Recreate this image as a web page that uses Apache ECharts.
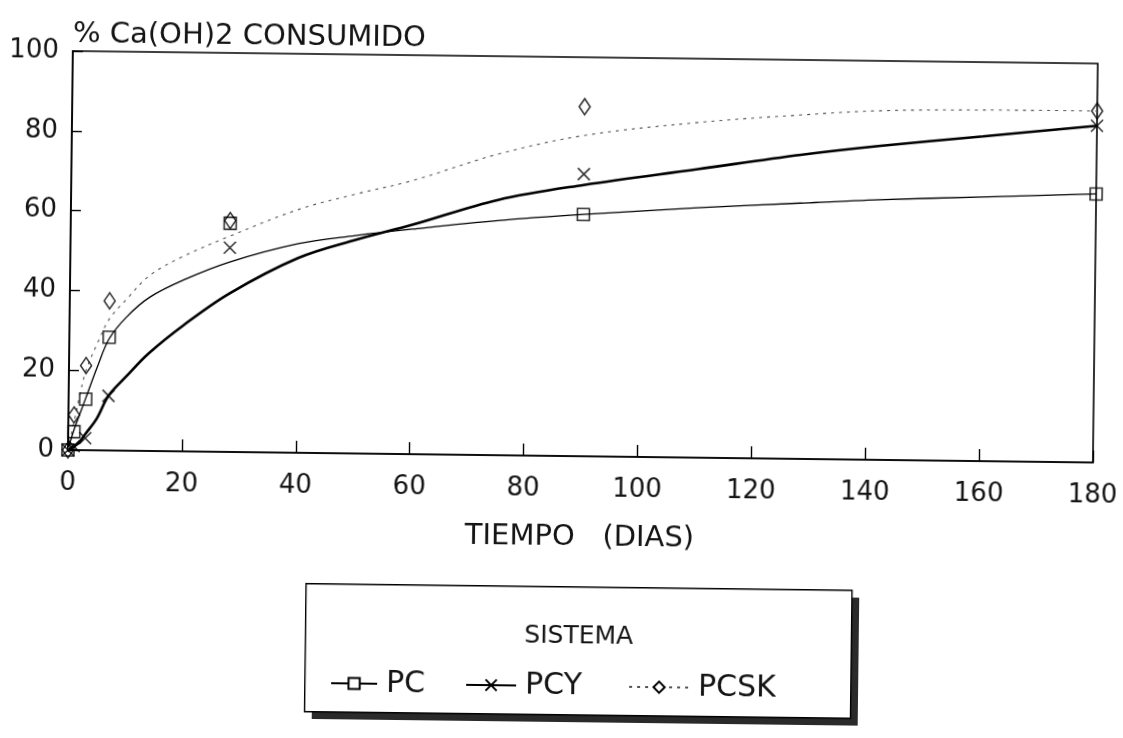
<!DOCTYPE html>
<html>
<head>
<meta charset="utf-8">
<script src="https://cdn.jsdelivr.net/npm/echarts@6/dist/echarts.min.js"></script>
<style>
  html, body { margin: 0; padding: 0; background: #fff; }
  #chart {
    width: 1123px; height: 738px;
    transform: rotate(0.7deg);
    transform-origin: 561.5px 369px;
  }
</style>
</head>
<body>
<div id="chart"></div>
<script>
// Measured ages (days) and % Ca(OH)2 consumed for each system
const days = [0, 1, 3, 7, 28, 90, 180];
const pcValues = [0, 4.6, 12.8, 28.4, 57.3, 60.6, 67.3];
const pcyValues = [0, 1, 3, 13.7, 51.2, 70.7, 84.4];
const pcskValues = [0, 8.8, 21.2, 37.5, 58.0, 87.6, 88.1];

// Fitted trend curves, sampled along the time axis
const curveDays = [0, 1, 2, 3, 5, 7, 10, 14, 20, 28, 40, 50, 60, 75, 90, 110, 128, 142, 160, 180];
const pcCurve = [0, 5, 9, 13, 21, 28, 33.5, 38.5, 43, 47.6, 52.4, 54.6, 56.4, 58.8, 60.6, 62.6, 64.1, 65.2, 66.2, 67.3];
const pcyCurve = [0, 0.8, 2, 4, 8, 13.7, 18.5, 24.5, 31.6, 39.7, 48.8, 53.5, 57.5, 64, 68, 72.3, 76.2, 78.7, 81.4, 84.4];
const pcskCurve = [0, 7, 14, 20, 27, 33, 38, 44, 49, 54.1, 61, 65, 68.6, 75.5, 80.4, 84, 86.2, 87.5, 88, 88.1];

const xTicks = [0, 20, 40, 60, 80, 100, 120, 140, 160, 180];
const seriesNames = ['PC', 'PCY', 'PCSK'];

const FONT = 'DejaVu Sans';
const INK = '#141414';

const pairs = (xs, ys) => xs.map((x, i) => [x, ys[i]]);
const crossPath = 'path://M0,0L10,10M10,0L0,10';

// one legend entry per system, each placed on its own
const legendSlots = [
  { left: 334, itemWidth: 46 },
  { left: 469, itemWidth: 50 },
  { left: 632, itemWidth: 60 }
];

const chart = echarts.init(document.getElementById('chart'), null, { renderer: 'canvas' });

chart.setOption({
  backgroundColor: '#fff',
  animation: false,
  textStyle: { fontFamily: FONT, color: INK },
  title: {
    text: '% Ca(OH)2 CONSUMIDO',
    left: 64, top: 21,
    textStyle: { fontFamily: FONT, fontSize: 29, fontWeight: 'normal', color: INK }
  },
  grid: {
    left: 69, top: 57, width: 1025, height: 399,
    show: true, borderColor: '#000', borderWidth: 1.6, backgroundColor: 'transparent'
  },
  xAxis: {
    type: 'value', min: 0, max: 180, interval: 20,
    name: 'TIEMPO   (DIAS)', nameLocation: 'middle', nameGap: 67,
    nameTextStyle: { fontFamily: FONT, fontSize: 29, color: INK },
    axisLine: { show: true, lineStyle: { color: '#000', width: 1.6 } },
    axisTick: { show: true, inside: true, length: 12, lineStyle: { color: '#000', width: 1.4 } },
    axisLabel: {
      fontFamily: FONT, fontSize: 26, color: INK, margin: 20,
      formatter: v => xTicks.includes(v) ? String(v) : ''
    },
    splitLine: { show: false }
  },
  yAxis: {
    type: 'value', min: 0, max: 100, interval: 20,
    axisLine: { show: true, lineStyle: { color: '#000', width: 1.6 } },
    axisTick: { show: true, inside: true, length: 10, lineStyle: { color: '#000', width: 1.4 } },
    axisLabel: { fontFamily: FONT, fontSize: 26, color: INK, margin: 14 },
    splitLine: { show: false }
  },
  legend: seriesNames.map((name, i) => ({
    data: [name],
    left: legendSlots[i].left, top: 671, padding: 0,
    itemWidth: legendSlots[i].itemWidth, itemHeight: 14,
    textStyle: { fontFamily: FONT, fontSize: 30, color: INK, padding: [0, 0, 0, 4] },
    selectedMode: false
  })),
  graphic: [
    // legend frame with its drop shadow
    { type: 'rect', left: 316, top: 594, shape: { width: 546, height: 128 },
      style: { fill: '#2a2a2a' }, z: 0 },
    { type: 'rect', left: 308, top: 586, shape: { width: 546, height: 128 },
      style: { fill: '#fff', stroke: '#000', lineWidth: 1.4 }, z: 1 },
    { type: 'text', x: 582, y: 636, z: 2,
      style: { text: 'SISTEMA', font: '25px "DejaVu Sans"', fill: INK,
               textAlign: 'center', textVerticalAlign: 'middle' } }
  ],
  series: [
    {
      name: 'PC', type: 'line', smooth: 0.35, showSymbol: false,
      symbol: 'rect', symbolSize: 10,
      itemStyle: { color: '#fff', borderColor: '#000', borderWidth: 1.4 },
      lineStyle: { color: '#000', width: 1.3 },
      data: pairs(curveDays, pcCurve), z: 3
    },
    {
      name: 'PCY', type: 'line', smooth: 0.35, showSymbol: false,
      symbol: crossPath, symbolSize: 10,
      itemStyle: { color: 'transparent', borderColor: '#000', borderWidth: 1.4 },
      lineStyle: { color: '#000', width: 2.6 },
      data: pairs(curveDays, pcyCurve), z: 3
    },
    {
      name: 'PCSK', type: 'line', smooth: 0.35, showSymbol: false,
      symbol: 'diamond', symbolSize: [9, 13],
      itemStyle: { color: '#fff', borderColor: '#000', borderWidth: 1.4 },
      lineStyle: { color: '#555', width: 1.1, type: [3, 5] },
      data: pairs(curveDays, pcskCurve), z: 3
    },
    {
      name: 'PC', type: 'scatter', symbol: 'rect', symbolSize: 12,
      itemStyle: { color: 'rgba(255,255,255,0)', borderColor: '#000', borderWidth: 1.6 },
      data: pairs(days, pcValues), z: 5
    },
    {
      name: 'PCY', type: 'scatter', symbol: crossPath, symbolSize: 12,
      itemStyle: { color: 'rgba(255,255,255,0)', borderColor: '#000', borderWidth: 1.6 },
      data: pairs(days, pcyValues), z: 5
    },
    {
      name: 'PCSK', type: 'scatter', symbol: 'diamond', symbolSize: [11, 16],
      itemStyle: { color: 'rgba(255,255,255,0)', borderColor: '#000', borderWidth: 1.6 },
      data: pairs(days, pcskValues), z: 5
    }
  ]
});
</script>
</body>
</html>
